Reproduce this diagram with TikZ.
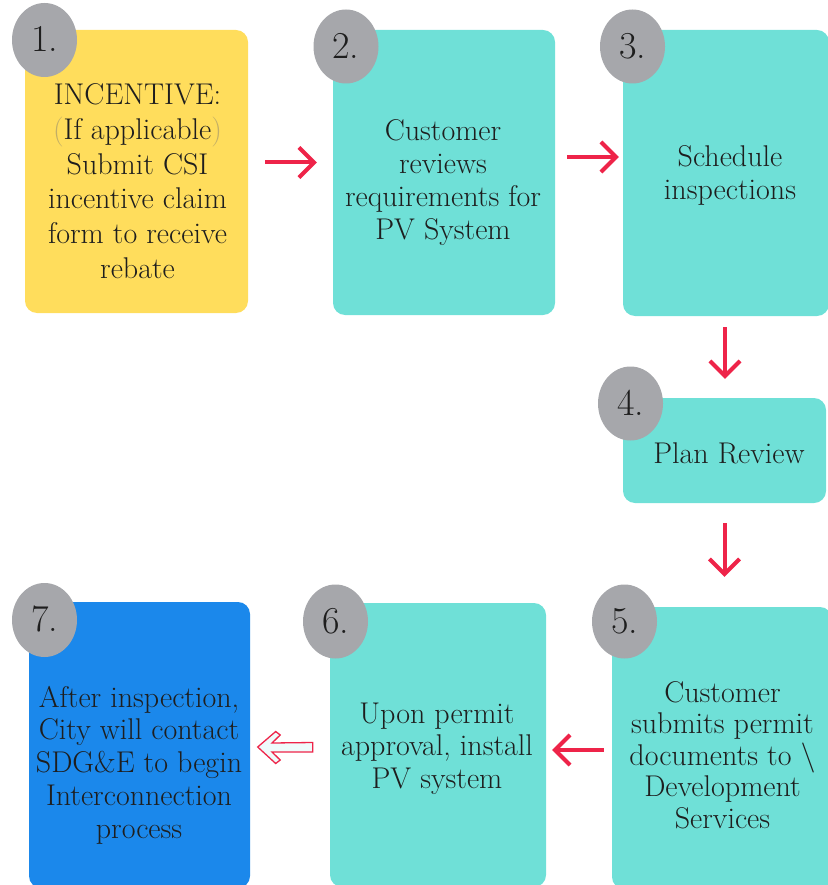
\documentclass[tikz,border=0pt]{standalone}
\usetikzlibrary{arrows.meta,calc,shapes.geometric}
\definecolor{yel}{HTML}{FFDD5C}
\definecolor{teal}{HTML}{6FE0D7}
\definecolor{blu}{HTML}{1B88EB}
\definecolor{cgray}{HTML}{A6A7AB}
\definecolor{ared}{HTML}{EE2449}
\definecolor{txtc}{HTML}{1E1E1E}
\definecolor{parc}{HTML}{C2AE66}
\definecolor{hollowfill}{HTML}{EEFBFB}
\tikzset{
  box/.style={rounded corners=12pt, inner sep=0pt, draw=none},
  numc/.style={ellipse, fill=cgray, minimum width=65pt, minimum height=74pt, inner sep=0pt,
    text=txtc, font=\fontsize{38}{38}\selectfont},
  txt/.style={align=center, inner sep=0pt, text=txtc, anchor=base},
  arr/.style={draw=ared, line width=4pt, -{Straight Barb[length=15pt,width=30pt]}},
  hollow/.style={draw=ared, fill=hollowfill, line width=1.3pt, line join=miter}
}
\begin{document}
\begin{tikzpicture}[x=1pt,y=-1pt]
\useasboundingbox (0,0) rectangle (827,885);
% boxes
\node[box, fill=yel,  minimum width=223pt, minimum height=283pt] (b1) at (136.5,171.5) {};
\node[box, fill=teal, minimum width=222pt, minimum height=285pt] (b2) at (444,172.5) {};
\node[box, fill=teal, minimum width=206pt, minimum height=286pt] (b3) at (726,173) {};
\node[box, fill=teal, minimum width=203pt, minimum height=105pt] (b4) at (724.5,450.5) {};
\node[box, fill=teal, minimum width=220pt, minimum height=282pt] (b5) at (722,748) {};
\node[box, fill=teal, minimum width=216pt, minimum height=284pt] (b6) at (438,745) {};
\node[box, fill=blu,  minimum width=221pt, minimum height=286pt] (b7) at (139.5,745) {};
% number ellipses
\node[numc] (n1) at (44.5,40) {\raisebox{2pt}{1.}};
\node[numc] (n2) at (346,46.5) {\raisebox{2pt}{2.}};
\node[numc] (n3) at (632.5,46.5) {\raisebox{2pt}{3.}};
\node[numc] (n4) at (630.5,403.5) {\raisebox{2pt}{4.}};
\node[numc] (n5) at (624.5,621.5) {\raisebox{2pt}{5.}};
\node[numc] (n6) at (335.5,621.5) {\raisebox{2pt}{6.}};
\node[numc] (n7) at (44.5,620) {\raisebox{2pt}{7.}};
% texts (anchored at the baseline of the last line)
\node[txt, font=\fontsize{30}{34.6}\selectfont] (t1) at (137.5,278)
  {INCENTIVE:\\{\color{parc}(}If applicable{\color{parc})}\\Submit CSI\\incentive claim\\form to receive\\rebate};
\node[txt, font=\fontsize{30}{33.3}\selectfont] (t2) at (443,240)
  {Customer\\reviews\\requirements for\\PV System};
\node[txt, font=\fontsize{30}{33}\selectfont] (t3) at (730,200)
  {Schedule\\inspections};
\node[txt, font=\fontsize{30}{33}\selectfont] (t4) at (729,463)
  {Plan Review};
\node[txt, font=\fontsize{30}{31.5}\selectfont] (t5) at (722.5,828)
  {Customer\\submits permit\\documents to \textbackslash\\Development\\Services};
\node[txt, font=\fontsize{30}{32.5}\selectfont] (t6) at (437,788)
  {Upon permit\\approval, install\\PV system};
\node[txt, font=\fontsize{30}{32.75}\selectfont] (t7) at (139,838)
  {After inspection,\\City will contact\\SDG\&E to begin\\Interconnection\\process};
% arrows
\draw[arr, shorten <=17pt, shorten >=16pt] ([yshift=9pt]b1.east) -- ([yshift=9pt]b1.east -| b2.west);
\draw[arr, shorten <=12pt, shorten >=4pt] ([yshift=15.5pt]b2.east) -- ([yshift=15.5pt]b2.east -| b3.west);
\draw[arr, shorten <=11pt, shorten >=19pt] ([xshift=-1pt]b3.south) -- ([xshift=-1pt]b3.south |- b4.north);
\draw[arr, shorten <=20pt, shorten >=30pt] (b4.south) -- (b4.south |- b5.north);
\draw[arr, shorten <=8pt, shorten >=6pt] ([yshift=-2pt]b5.west) -- ([yshift=-2pt]b5.west -| b6.east);
% hollow arrow 6 -> 7
\coordinate (tip67) at ($(b7.east)+(7.5,2)$);
\draw[hollow] (tip67) -- ++(18,-15.5) -- ++(4.5,3.5) -- ++(-8.2,8) -- ($(b6.west)+(-17,-2.5)$)
  -- ($(b6.west)+(-17,7)$) -- ($(tip67)+(14.3,5)$) -- ++(8.2,8) -- ++(-4.5,3.5) -- cycle;
\end{tikzpicture}
\end{document}
